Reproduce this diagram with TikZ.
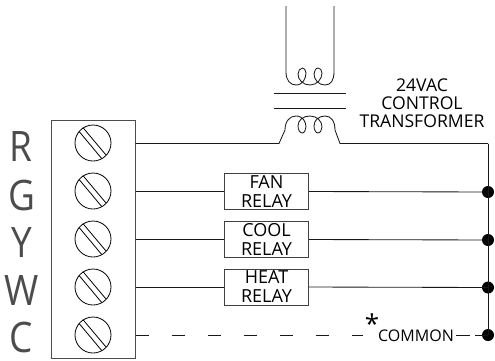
\documentclass[tikz,border=0pt]{standalone}
\usepackage{fontspec}
\setmainfont{Open Sans}
\usetikzlibrary{calc}
\tikzset{
  wire/.style={line width=0.85pt,black!90},
  lab/.style={inner sep=0pt,font=\fontsize{17.6}{17.6}\selectfont,black},
  term/.style={inner sep=0pt,font=\fontsize{42}{42}\selectfont,xscale=0.88,transform shape,black!70},
  relay/.style={draw=black!75,line width=1pt,minimum width=84pt,minimum height=36pt,inner sep=0pt,align=center,font=\fontsize{18}{19}\selectfont},
  screw/.style={circle,draw,line width=0.8pt,minimum size=36pt,inner sep=0pt},
  dot/.style={circle,fill=black,minimum size=12pt,inner sep=0pt},
  dashwire/.style={wire,dash pattern=on 13pt off 23pt},
}
\newcommand{\slot}[1]{%
  \draw[line width=0.8pt] ($(#1)+(-9.7,-15)$) -- ($(#1)+(13,12)$);
  \draw[line width=0.8pt] ($(#1)+(-13.7,-11.3)$) -- ($(#1)+(8.7,15.5)$);
}
\begin{document}
\begin{tikzpicture}[x=1pt,y=-1pt]
\useasboundingbox (0,0) rectangle (495,360);
\node[draw=black!70,line width=1pt,minimum width=84pt,minimum height=238pt,inner sep=0pt] (block) at (93,239) {};
\foreach \n/\y in {r/143,g/191,y/239,w/287,c/335}{
  \node[screw] (s\n) at (93,\y) {};
  \slot{s\n}
}
\node[term] (lr) at (21,146.5) {R};
\node[term] (lg) at (22,195) {G};
\node[term] (ly) at (21.5,242.5) {Y};
\node[term] (lw) at (21.5,290) {W};
\node[term] (lc) at (21.5,337.5) {C};
\node[relay] (fan) at (266.5,191.5) {FAN\\RELAY};
\node[relay] (cool) at (266.5,239.5) {COOL\\RELAY};
\node[relay] (heat) at (266.5,287) {HEAT\\RELAY};
\node[dot] (d1) at (488,192) {};
\node[dot] (d2) at (488,240) {};
\node[dot] (d3) at (488,287.5) {};
\node[dot] (d4) at (488,335) {};
\coordinate (rr) at (488,143.5);
\draw[wire] (rr) -- (d4.center);
\draw[wire] (block.east |- fan.west) -- (fan.west);
\draw[wire] (fan.east) -- (d1.center);
\draw[wire] (block.east |- cool.west) -- (cool.west);
\draw[wire] (cool.east) -- (d2.center);
\draw[wire] (block.east |- heat.west) -- (heat.west);
\draw[wire] (heat.east) -- (d3.center);
\coordinate (pl) at (286,6);
\coordinate (pr) at (334,6);
\coordinate (sl) at (279,143.5);
\coordinate (sr) at (340,143.5);
\draw[wire] (pl) -- (286,72)
  .. controls (286,80) and (290,85) .. (296,85)
  .. controls (303,85) and (306,78) .. (306,73)
  .. controls (306,70) and (304,68) .. (302.5,68)
  .. controls (300,68) and (298,71) .. (298,74)
  .. controls (298,80) and (303,85) .. (310,85)
  .. controls (317,85) and (322,79) .. (322,73)
  .. controls (322,70) and (320,68) .. (318,68)
  .. controls (316,68) and (314,71) .. (314,74)
  .. controls (314,80) and (319,85) .. (325,85)
  .. controls (331,85) and (334,80) .. (334,72) -- (pr);
\draw[wire] (block.east |- sl) -- (sl) -- (285,130)
  .. controls (285,121) and (290,116) .. (296,116)
  .. controls (303,116) and (306,122) .. (306,127)
  .. controls (306,130) and (304,133) .. (302.5,133)
  .. controls (300,133) and (298,130) .. (298,126)
  .. controls (298,120) and (303,116) .. (310,116)
  .. controls (317,116) and (322,121) .. (322,127)
  .. controls (322,130) and (320,133) .. (318,133)
  .. controls (316,133) and (314,130) .. (314,126)
  .. controls (314,120) and (319,116) .. (325,116)
  .. controls (331,116) and (335,121) .. (335,130) -- (sr) -- (rr);
\coordinate (ca) at (274,93.7);
\coordinate (cb) at (346,93.7);
\coordinate (cc) at (274,108.7);
\coordinate (cd) at (346,108.7);
\draw[wire] (ca) -- (cb);
\draw[wire,line width=1.2pt] (cc) -- (cd);
\node[lab] (v24) at (422,85) {24VAC};
\node[lab] (ctl) at (422,103) {CONTROL};
\node[lab] (trf) at (422,121) {TRANSFORMER};
\node[inner sep=0pt,font=\fontsize{16}{16}\selectfont] (com) at (416,335.5) {COMMON};
\node[inner sep=0pt,font=\fontsize{26}{26}\selectfont] (ast) at (372,324) {*};
\draw[dashwire] (block.east |- d4) -- (363,335);
\draw[wire] (com.east |- d4) ++(2,0) -- (470,335);
\draw[wire] (475,335) -- (d4.center);
\end{tikzpicture}
\end{document}
